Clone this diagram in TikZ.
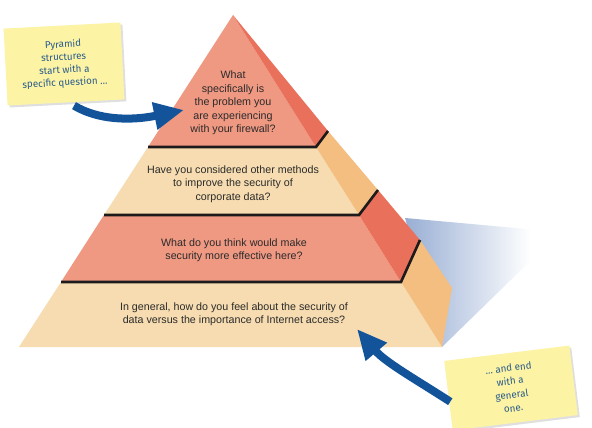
\documentclass[tikz,border=0pt]{standalone}
\usepackage{fontspec}
\setmainfont{Liberation Sans}
\newfontfamily\notefont{Fira Sans}
\usetikzlibrary{arrows.meta,shadows}
\definecolor{redfront}{HTML}{EF9882}
\definecolor{redside}{HTML}{E9705B}
\definecolor{tanfront}{HTML}{F6DCB0}
\definecolor{tanside}{HTML}{F3BE80}
\definecolor{notey}{HTML}{FCF3A4}
\definecolor{arrowblue}{HTML}{13539A}
\definecolor{notetext}{HTML}{285A8C}
\definecolor{shadowblue}{HTML}{98AED4}
\definecolor{stepline}{HTML}{1C1A1A}
\definecolor{qtext}{HTML}{2B2B2B}
\pgfdeclarehorizontalshading{shadowfade}{100bp}{color(0bp)=(shadowblue); color(25bp)=(shadowblue); color(65bp)=(white); color(100bp)=(white)}
\tikzset{
  stepedge/.style={draw=stepline, line width=2.6pt, line join=miter},
  question/.style={align=center, text=qtext, inner sep=0pt,
    font=\fontsize{10.7}{13.5}\selectfont},
  note/.style={fill=notey, draw=none, inner sep=0pt, align=center,
    text=notetext, font=\notefont\fontsize{9.8}{12.8}\selectfont,
    drop shadow={shadow xshift=2pt, shadow yshift=-2pt, opacity=0.25}},
  bigarrow/.style={draw=arrowblue, line width=8pt,
    -{Triangle[length=30pt, width=26pt]}}
}
\begin{document}
\begin{tikzpicture}[x=1pt,y=-1pt]
\useasboundingbox (0,0) rectangle (592,428);
\fill[white] (0,0) rectangle (592,428);

% shadow behind pyramid
\begin{scope}
  \clip (405,218) -- (560,232) -- (442,347) -- cycle;
  \shade[shading=shadowfade] (405,210) rectangle (562,350);
\end{scope}

% tier 1
\fill[redfront] (233,15) -- (148,147) -- (316,147) -- cycle;
\fill[redside] (233,15) -- (316,147) -- (328,131) -- cycle;
% tier 2
\fill[tanfront] (148,147) -- (316,147) -- (359,215) -- (104,215) -- cycle;
\fill[tanside] (316,147) -- (328,131) -- (378,190) -- (359,215) -- cycle;
% tier 3
\fill[redfront] (104,215) -- (359,215) -- (401,282) -- (61,282) -- cycle;
\fill[redside] (359,215) -- (378,190) -- (420,240) -- (401,282) -- cycle;
% tier 4
\fill[tanfront] (61,282) -- (401,282) -- (442,347) -- (19,347) -- cycle;
\fill[tanside] (401,282) -- (420,240) -- (452,288) -- (442,347) -- cycle;

% step lines
\draw[stepedge] (148,147) -- (316,147) -- (328,131);
\draw[stepedge] (104,215) -- (359,215) -- (378,190);
\draw[stepedge] (61,282) -- (401,282) -- (420,240);

% questions
\node[question] (t1) at (233,103) {What\\specifically is\\the problem you\\are experiencing\\with your firewall?};
\node[question] (t2) at (233,184) {Have you considered other methods\\to improve the security of\\corporate data?};
\node[question] (t3) at (234,250) {What do you think would make\\security more effective here?};
\node[question] (t4) at (234,314) {In general, how do you feel about the security of\\data versus the importance of Internet access?};

% sticky notes
\node[note, rotate=3, minimum width=117pt, minimum height=77pt] (n1) at (64,64)
  {Pyramid\\structures\\start with a\\specific question \dots};
\node[note, rotate=7, minimum width=126pt, minimum height=70pt,
  font=\notefont\fontsize{9.8}{13.5}\selectfont] (n2) at (511,388)
  {\dots\ and end\\with a\\general\\one.};

% arrows
\coordinate (tip1) at (184,110);
\coordinate (tip2) at (357,329);
\draw[bigarrow] ([xshift=8pt,yshift=-3pt]n1.south) .. controls (98,120) and (130,121) .. (tip1);
\draw[bigarrow] ([xshift=2pt,yshift=-6pt]n2.west) .. controls (415,379) and (385,362) .. (tip2);
\end{tikzpicture}
\end{document}
